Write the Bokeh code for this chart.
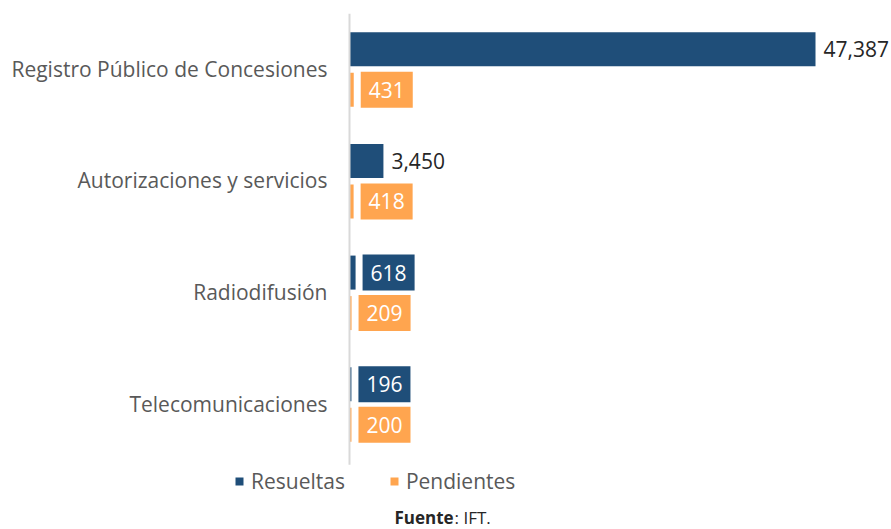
from bokeh.plotting import figure
from bokeh.models import ColumnDataSource, Legend, LegendItem, Label, Range1d
from bokeh.core.properties import value
from bokeh.embed import file_html
from bokeh.resources import INLINE

# ---- data ----
categories = ["Registro Público de Concesiones", "Autorizaciones y servicios",
              "Radiodifusión", "Telecomunicaciones"]
resueltas = [47387, 3450, 618, 196]
pendientes = [431, 418, 209, 200]
series_names = ["Resueltas", "Pendientes"]
series_colors = ["#1F4E79", "#FFA54F"]

# ---- layout constants ----
W, H = 891, 529
FONT = "Open Sans"
PX = 47387 / 466.0          # data units per pixel on x
X0 = -349 * PX
X1 = X0 + W * PX
ROW = 111.67                # px per category
Y1 = 3 + 69 / ROW
Y0 = 3 - (H - 69) / ROW
BAR_H = 34 / ROW
OFF = 20.25 / ROW

n = len(categories)
pos = [n - 1 - i for i in range(n)]

def fmt(v):
    return f"{v:,}"

p = figure(width=W, height=H, output_backend="svg", toolbar_location=None,
           x_range=Range1d(X0, X1), y_range=Range1d(Y0, Y1),
           min_border=0, outline_line_color=None)
p.axis.visible = False
p.grid.visible = False
p.background_fill_color = "white"
p.border_fill_color = "white"

renderers = []
label_rows_out = dict(x=[], y=[], t=[])
label_rows_box = dict(x=[], y=[], t=[], c=[])
for s, (vals, col, dy) in enumerate([(resueltas, series_colors[0], OFF),
                                      (pendientes, series_colors[1], -OFF)]):
    src = ColumnDataSource(dict(y=[q + dy for q in pos], right=vals))
    r = p.hbar(y="y", left=0, right="right", height=BAR_H, source=src,
               fill_color=col, line_color=None)
    renderers.append(r)
    for q, v in zip(pos, vals):
        if v > 1000:
            label_rows_out["x"].append(v); label_rows_out["y"].append(q + dy)
            label_rows_out["t"].append(fmt(v))
        else:
            label_rows_box["x"].append(v); label_rows_box["y"].append(q + dy)
            label_rows_box["t"].append(fmt(v)); label_rows_box["c"].append(col)

# axis line
p.segment(x0=0, x1=0, y0=-0.54, y1=3.50, line_color="#D9D9D9", line_width=2)

# category labels
p.text(x=0, y=pos, text=categories, x_offset=-22, y_offset=-1, text_align="right",
       text_baseline="middle", text_font=value(FONT), text_font_size="21px",
       text_color="#595959")

# data labels
p.text(x="x", y="y", text="t", source=ColumnDataSource(label_rows_out),
       x_offset=8, text_align="left", text_baseline="middle",
       text_font=value(FONT), text_font_size="21px", text_color="#262626")
p.text(x="x", y="y", text="t", source=ColumnDataSource(label_rows_box),
       x_offset=7, text_align="left", text_baseline="middle",
       text_font=value(FONT), text_font_size="21px", text_color="white",
       background_fill_color="c",
       padding=dict(left=8, right=8, top=10, bottom=10))

legend = Legend(items=[LegendItem(label=series_names[0], renderers=[renderers[0]]),
                       LegendItem(label=series_names[1], renderers=[renderers[1]])],
                orientation="horizontal", location=(234, 34),
                glyph_width=10, glyph_height=10, label_standoff=7, spacing=44,
                padding=0, margin=0, border_line_alpha=0, background_fill_alpha=0,
                label_text_font=FONT, label_text_font_size="21px",
                label_text_color="#595959")
p.add_layout(legend)

p.add_layout(Label(x=394, y=1, x_units="screen", y_units="screen", text="Fuente",
                   text_font=FONT, text_font_style="bold", text_font_size="17px",
                   text_color="#262626", text_baseline="bottom"))
p.add_layout(Label(x=454, y=1, x_units="screen", y_units="screen", text=": IFT.",
                   text_font=FONT, text_font_size="17px",
                   text_color="#262626", text_baseline="bottom"))

open("out.html", "w").write(file_html(p, INLINE))
